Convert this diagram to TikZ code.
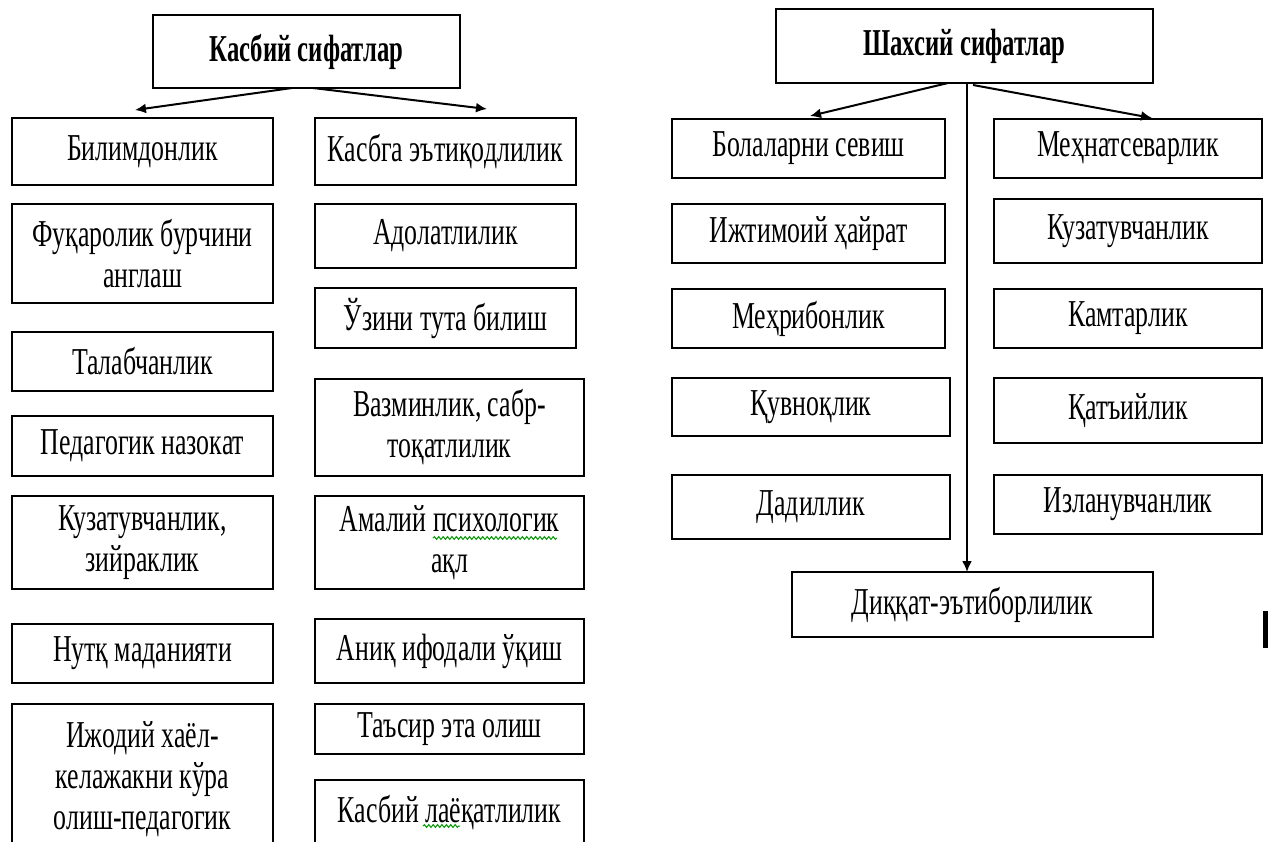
\documentclass[tikz,border=0pt]{standalone}
\usepackage{fontspec}
\setmainfont[FakeStretch=0.68,BoldFeatures={FakeStretch=0.65}]{Liberation Serif}
\usetikzlibrary{arrows.meta,decorations.pathmorphing}
\newcommand\bx[6]{\node[box,minimum width={(#4-#2)*0.5pt},minimum height={(#5-#3)*0.5pt}] (#1) at ({(#2+#4)/2},{(#3+#5)/2}) {#6};}
\begin{document}
\begin{tikzpicture}[x=0.5pt,y=-0.5pt,
  box/.style={draw,line width=1pt,inner sep=0pt,outer sep=0pt,align=center,font=\fontsize{19}{20.5}\selectfont},
  arr/.style={line width=1pt,-{Latex[length=5.5pt,width=5pt]}},
  wave/.style={draw=green!60!black,line width=0.5pt,decorate,decoration={snake,amplitude=0.7pt,segment length=2.2pt}}]
\clip (0,0) rectangle (1268,841);
\fill[white] (0,0) rectangle (1268,841);
% left part
\bx{T1}{153}{15}{460}{88}{\bfseries\fontsize{19}{19}\selectfont Касбий сифатлар}
\bx{L1}{12}{118}{273}{185}{Билимдонлик}
\bx{L2}{12}{204}{273}{303}{Фуқаролик бурчини\\англаш}
\bx{L3}{12}{332}{273}{391}{Талабчанлик}
\bx{L4}{12}{416}{273}{476}{Педагогик назокат}
\bx{L5}{12}{496}{273}{589}{Кузатувчанлик,\\зийраклик}
\bx{L6}{12}{624}{273}{683}{Нутқ маданияти}
\bx{L7}{12}{704}{273}{854}{Ижодий хаёл-\\келажакни кўра\\олиш-педагогик}
\bx{R1}{315}{118}{576}{185}{Касбга эътиқодлилик}
\bx{R2}{315}{204}{576}{268}{Адолатлилик}
\bx{R3}{315}{288}{576}{348}{Ўзини тута билиш}
\bx{R4}{315}{379}{584}{476}{Вазминлик, сабр-\\тоқатлилик}
\bx{R5}{315}{496}{584}{589}{Амалий психологик\\ақл}
\bx{R6}{315}{619}{584}{683}{Аниқ ифодали ўқиш}
\bx{R7}{315}{704}{584}{754}{Таъсир эта олиш}
\bx{R8}{315}{780}{584}{845}{Касбий лаёқатлилик}
\coordinate (w1) at (433,538);
\coordinate (w2) at (557,538);
\coordinate (w3) at (423,826);
\coordinate (w4) at (460,826);
\draw[wave] (w1) -- (w2);
\draw[wave] (w3) -- (w4);
\coordinate (a1) at (292,88);
\coordinate (a2) at (313,88);
\coordinate (e1) at (135,110);
\coordinate (e2) at (487,109);
\draw[arr] (a1) -- (e1);
\draw[arr] (a2) -- (e2);
% right part
\bx{T2}{776}{9}{1153}{83}{\bfseries\fontsize{19}{19}\selectfont Шахсий сифатлар}
\bx{P1}{672}{119}{945}{178}{Болаларни севиш}
\bx{P2}{672}{204}{945}{263}{Ижтимоий ҳайрат}
\bx{P3}{672}{289}{945}{348}{Меҳрибонлик}
\bx{P4}{672}{378}{950}{436}{Қувноқлик}
\bx{P5}{672}{475}{950}{539}{Дадиллик}
\bx{Q1}{994}{119}{1262}{178}{Меҳнатсеварлик}
\bx{Q2}{994}{199}{1262}{263}{Кузатувчанлик}
\bx{Q3}{994}{289}{1262}{348}{Камтарлик}
\bx{Q4}{994}{378}{1262}{443}{Қатъийлик}
\bx{Q5}{994}{475}{1262}{534}{Изланувчанлик}
\bx{D}{792}{572}{1153}{637}{Диққат-эътиборлилик}
\coordinate (b1) at (948,83);
\coordinate (b2) at (973,85);
\coordinate (b3) at (967,83);
\coordinate (f1) at (810,116);
\coordinate (f2) at (1152,118);
\draw[arr] (b1) -- (f1);
\draw[arr] (b2) -- (f2);
\draw[arr] (b3) -- (b3 |- D.north);
\fill (1263,611) rectangle (1270,648);
\end{tikzpicture}
\end{document}
